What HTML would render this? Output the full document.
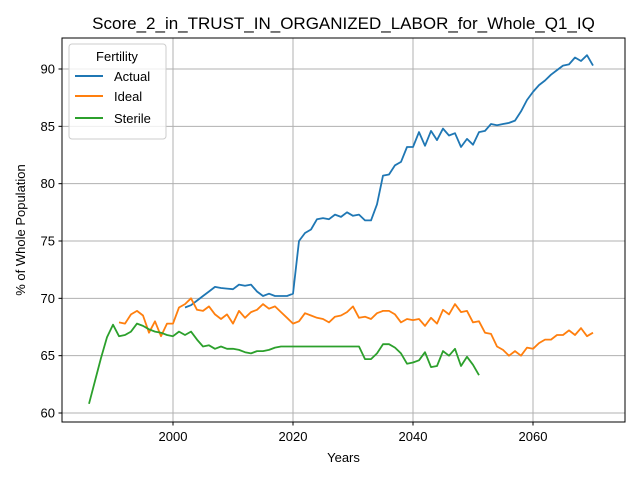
<!DOCTYPE html>
<html><head><meta charset="utf-8"><style>
body{margin:0;background:#fff;font-family:"Liberation Sans","DejaVu Sans",sans-serif;}
</style></head><body>
<svg width="640" height="480" viewBox="0 0 640 480" xmlns="http://www.w3.org/2000/svg" font-family="Liberation Sans, DejaVu Sans, sans-serif">
<rect width="640" height="480" fill="#fff"/>
<text x="343.5" y="29" font-size="17" text-anchor="middle">Score_2_in_TRUST_IN_ORGANIZED_LABOR_for_Whole_Q1_IQ</text>
<g id="grid"></g>
<g id="series"></g>
<rect x="62" y="38" width="563" height="384" fill="none" stroke="#000" stroke-width="1"/>
<g id="ticks"></g>
<text x="343.5" y="462" font-size="13" text-anchor="middle">Years</text>
<text transform="translate(25,230) rotate(-90)" font-size="13" text-anchor="middle">% of Whole Population</text>
<g>
<rect x="69" y="44" width="97" height="95" rx="3" fill="#fff" fill-opacity="0.8" stroke="#ccc"/>
<text x="117" y="61" font-size="13" text-anchor="middle">Fertility</text>
<g><line x1="75" y1="76" x2="103" y2="76" stroke="#1f77b4" stroke-width="2"/><text x="114" y="81" font-size="13">Actual</text></g>
<g><line x1="75" y1="96" x2="103" y2="96" stroke="#ff7f0e" stroke-width="2"/><text x="114" y="101" font-size="13">Ideal</text></g>
<g><line x1="75" y1="118" x2="103" y2="118" stroke="#2ca02c" stroke-width="2"/><text x="114" y="123" font-size="13">Sterile</text></g>
</g>
</svg>
<script>
const xTicks=[2000,2020,2040,2060];
const yTicks=[60,65,70,75,80,85,90];
const actualStart=2002;
const actualValues=[69.2,69.4,69.8,70.2,70.6,71.0,70.9,70.85,70.8,71.2,71.1,71.2,70.6,70.2,70.4,70.2,70.2,70.2,70.4,75.0,75.7,76.0,76.9,77.0,76.9,77.3,77.1,77.5,77.2,77.3,76.8,76.8,78.2,80.7,80.8,81.6,81.9,83.2,83.2,84.5,83.3,84.6,83.8,84.8,84.2,84.4,83.2,83.9,83.4,84.5,84.6,85.2,85.1,85.2,85.3,85.5,86.3,87.3,88.0,88.6,89.0,89.5,89.9,90.3,90.4,91.0,90.7,91.2,90.3];
const idealStart=1991;
const idealValues=[67.9,67.8,68.6,68.9,68.5,67.0,68.0,66.7,67.8,67.8,69.2,69.5,70.0,69.0,68.9,69.3,68.6,68.2,68.6,67.8,68.9,68.3,68.8,69.0,69.5,69.1,69.3,68.8,68.3,67.8,68.0,68.7,68.5,68.3,68.2,67.9,68.4,68.5,68.8,69.3,68.3,68.4,68.2,68.7,68.9,68.9,68.6,67.9,68.2,68.1,68.2,67.6,68.3,67.8,69.0,68.6,69.5,68.8,68.9,67.9,68.0,67.0,66.9,65.8,65.5,65.0,65.4,65.0,65.7,65.6,66.1,66.4,66.4,66.8,66.8,67.2,66.8,67.4,66.7,67.0];
const sterileStart=1986;
const sterileValues=[60.8,62.8,64.8,66.6,67.7,66.7,66.8,67.1,67.8,67.6,67.3,67.1,67.0,66.8,66.7,67.1,66.8,67.1,66.4,65.8,65.9,65.6,65.8,65.6,65.6,65.5,65.3,65.2,65.4,65.4,65.5,65.7,65.8,65.8,65.8,65.8,65.8,65.8,65.8,65.8,65.8,65.8,65.8,65.8,65.8,65.8,64.7,64.7,65.2,66.0,66.0,65.7,65.2,64.3,64.4,64.6,65.3,64.0,64.1,65.4,65.0,65.6,64.1,64.9,64.2,63.3];
const NS="http://www.w3.org/2000/svg";
const xs=y=>173+(y-2000)*6;
const ys=v=>413-(v-60)*(344/30);
const grid=document.getElementById('grid'),ticks=document.getElementById('ticks'),ser=document.getElementById('series');
function mk(tag,at,parent){const e=document.createElementNS(NS,tag);for(const k in at)e.setAttribute(k,at[k]);parent.appendChild(e);return e;}
xTicks.forEach(t=>{const x=xs(t);
const g=mk('line',{x1:x,x2:x,y1:38,y2:422,stroke:'#b0b0b0','stroke-width':1},grid);


mk('line',{x1:x,x2:x,y1:422,y2:425.5,stroke:'#000'},ticks);
const l=mk('text',{x:x,y:441,'font-size':13,'text-anchor':'middle'},ticks);l.textContent=t;

});
yTicks.forEach(t=>{const y=ys(t);
const g=mk('line',{x1:62,x2:625,y1:y,y2:y,stroke:'#b0b0b0','stroke-width':1},grid);


mk('line',{x1:58.5,x2:62,y1:y,y2:y,stroke:'#000'},ticks);
const l=mk('text',{x:55,y:y+4.5,'font-size':13,'text-anchor':'end'},ticks);l.textContent=t;

});
function line(start,vals,color,name){
const p=vals.map((v,i)=>xs(start+i).toFixed(1)+','+ys(v).toFixed(1)).join(' ');
const e=mk('polyline',{points:p,fill:'none',stroke:color,'stroke-width':1.8,'stroke-linejoin':'round'},ser);

}
line(actualStart,actualValues,'#1f77b4','actual-line');
line(idealStart,idealValues,'#ff7f0e','ideal-line');
line(sterileStart,sterileValues,'#2ca02c','sterile-line');
</script>
</body></html>
